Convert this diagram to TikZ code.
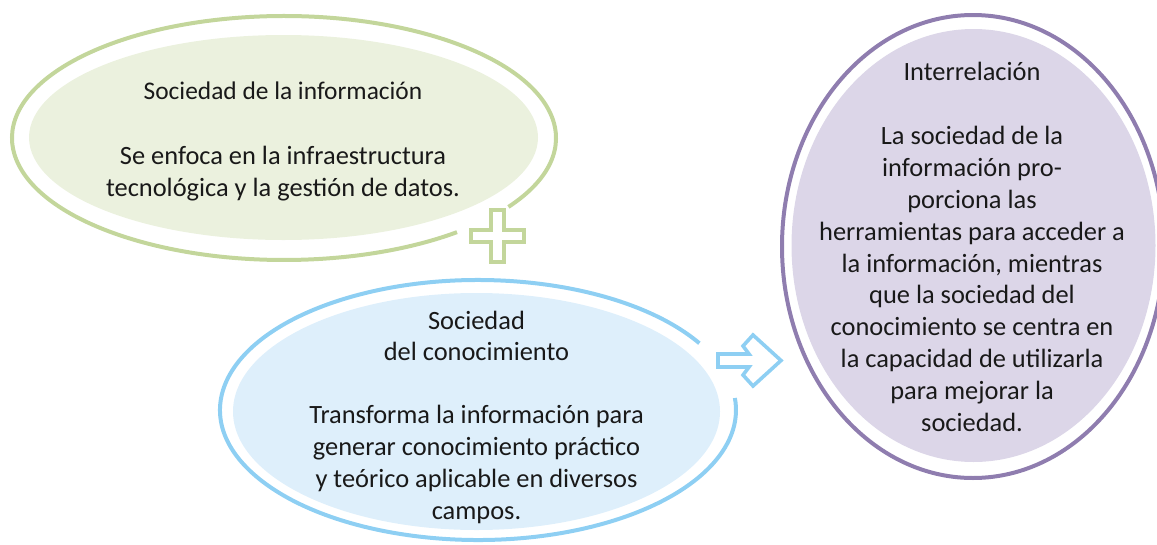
\documentclass[tikz,border=0pt]{standalone}
\usepackage{fontspec}
\setmainfont{Carlito}
\definecolor{grline}{RGB}{195,214,155}
\definecolor{grfill}{RGB}{235,241,222}
\definecolor{blline}{RGB}{142,207,243}
\definecolor{blfill}{RGB}{222,239,251}
\definecolor{puline}{RGB}{143,125,175}
\definecolor{pufill}{RGB}{220,214,232}
\definecolor{txtcol}{RGB}{25,25,25}
\tikzset{
  ring/.style={line width=4pt},
  sym/.style={line width=3.6pt, fill=white, line join=miter},
  txt/.style={align=center, inner sep=0pt, text=txtcol, font=\fontsize{26.4}{31.8}\selectfont}
}
\begin{document}
\begin{tikzpicture}[x=1pt,y=1pt]
\useasboundingbox (0,0) rectangle (1157,-544);
\clip (0,0) rectangle (1157,-544);
% green ellipse
\fill[grfill] (283.5,-137.5) ellipse [x radius=254.5, y radius=102.5];
\draw[ring, draw=grline] (284,-138) ++(-34.4:272 and 122) arc[start angle=-34.4, end angle=309.5, x radius=272, y radius=122];
% blue ellipse
\fill[blfill] (476.5,-411.5) ellipse [x radius=243.5, y radius=118.5];
\draw[ring, draw=blline] (478,-410) ++(30.9:258 and 130) arc[start angle=30.9, end angle=365.3, x radius=258, y radius=130];
% purple ellipse
\fill[pufill] (973.5,-245.5) ellipse [x radius=182, y radius=216.5];
\draw[ring, draw=puline] (973,-246.5) ellipse [x radius=191, y radius=231.5];
% plus
\draw[sym, draw=grline] (491,-210) -- (504,-210) -- (504,-230) -- (524,-230) -- (524,-242) -- (504,-242) -- (504,-262) -- (491,-262) -- (491,-242) -- (471,-242) -- (471,-230) -- (491,-230) -- cycle;
% arrow
\draw[sym, draw=blline] (718,-354) -- (749,-354) -- (743,-346) -- (753,-335) -- (781,-360.5) -- (753,-386) -- (743,-375) -- (749,-367) -- (718,-367) -- cycle;
% texts
\node[txt] (info) at (283,-141.5) {{\fontsize{25.4}{31.8}\selectfont Sociedad de la información}\\[33pt]Se enfoca en la infraestructura\\tecnológica y la gestión de datos.};
\node[txt] (cono) at (476.5,-417) {Sociedad\\del conocimiento\\[31pt]Transforma la información para\\generar conocimiento práctico\\y teórico aplicable en diversos\\campos.};
\node[txt] (inter) at (972,-246.5) {Interrelación\\[33pt]La sociedad de la\\información pro-\\porciona las\\herramientas para acceder a\\la información, mientras\\que la sociedad del\\conocimiento se centra en\\la capacidad de utilizarla\\para mejorar la\\sociedad.};
\end{tikzpicture}
\end{document}
